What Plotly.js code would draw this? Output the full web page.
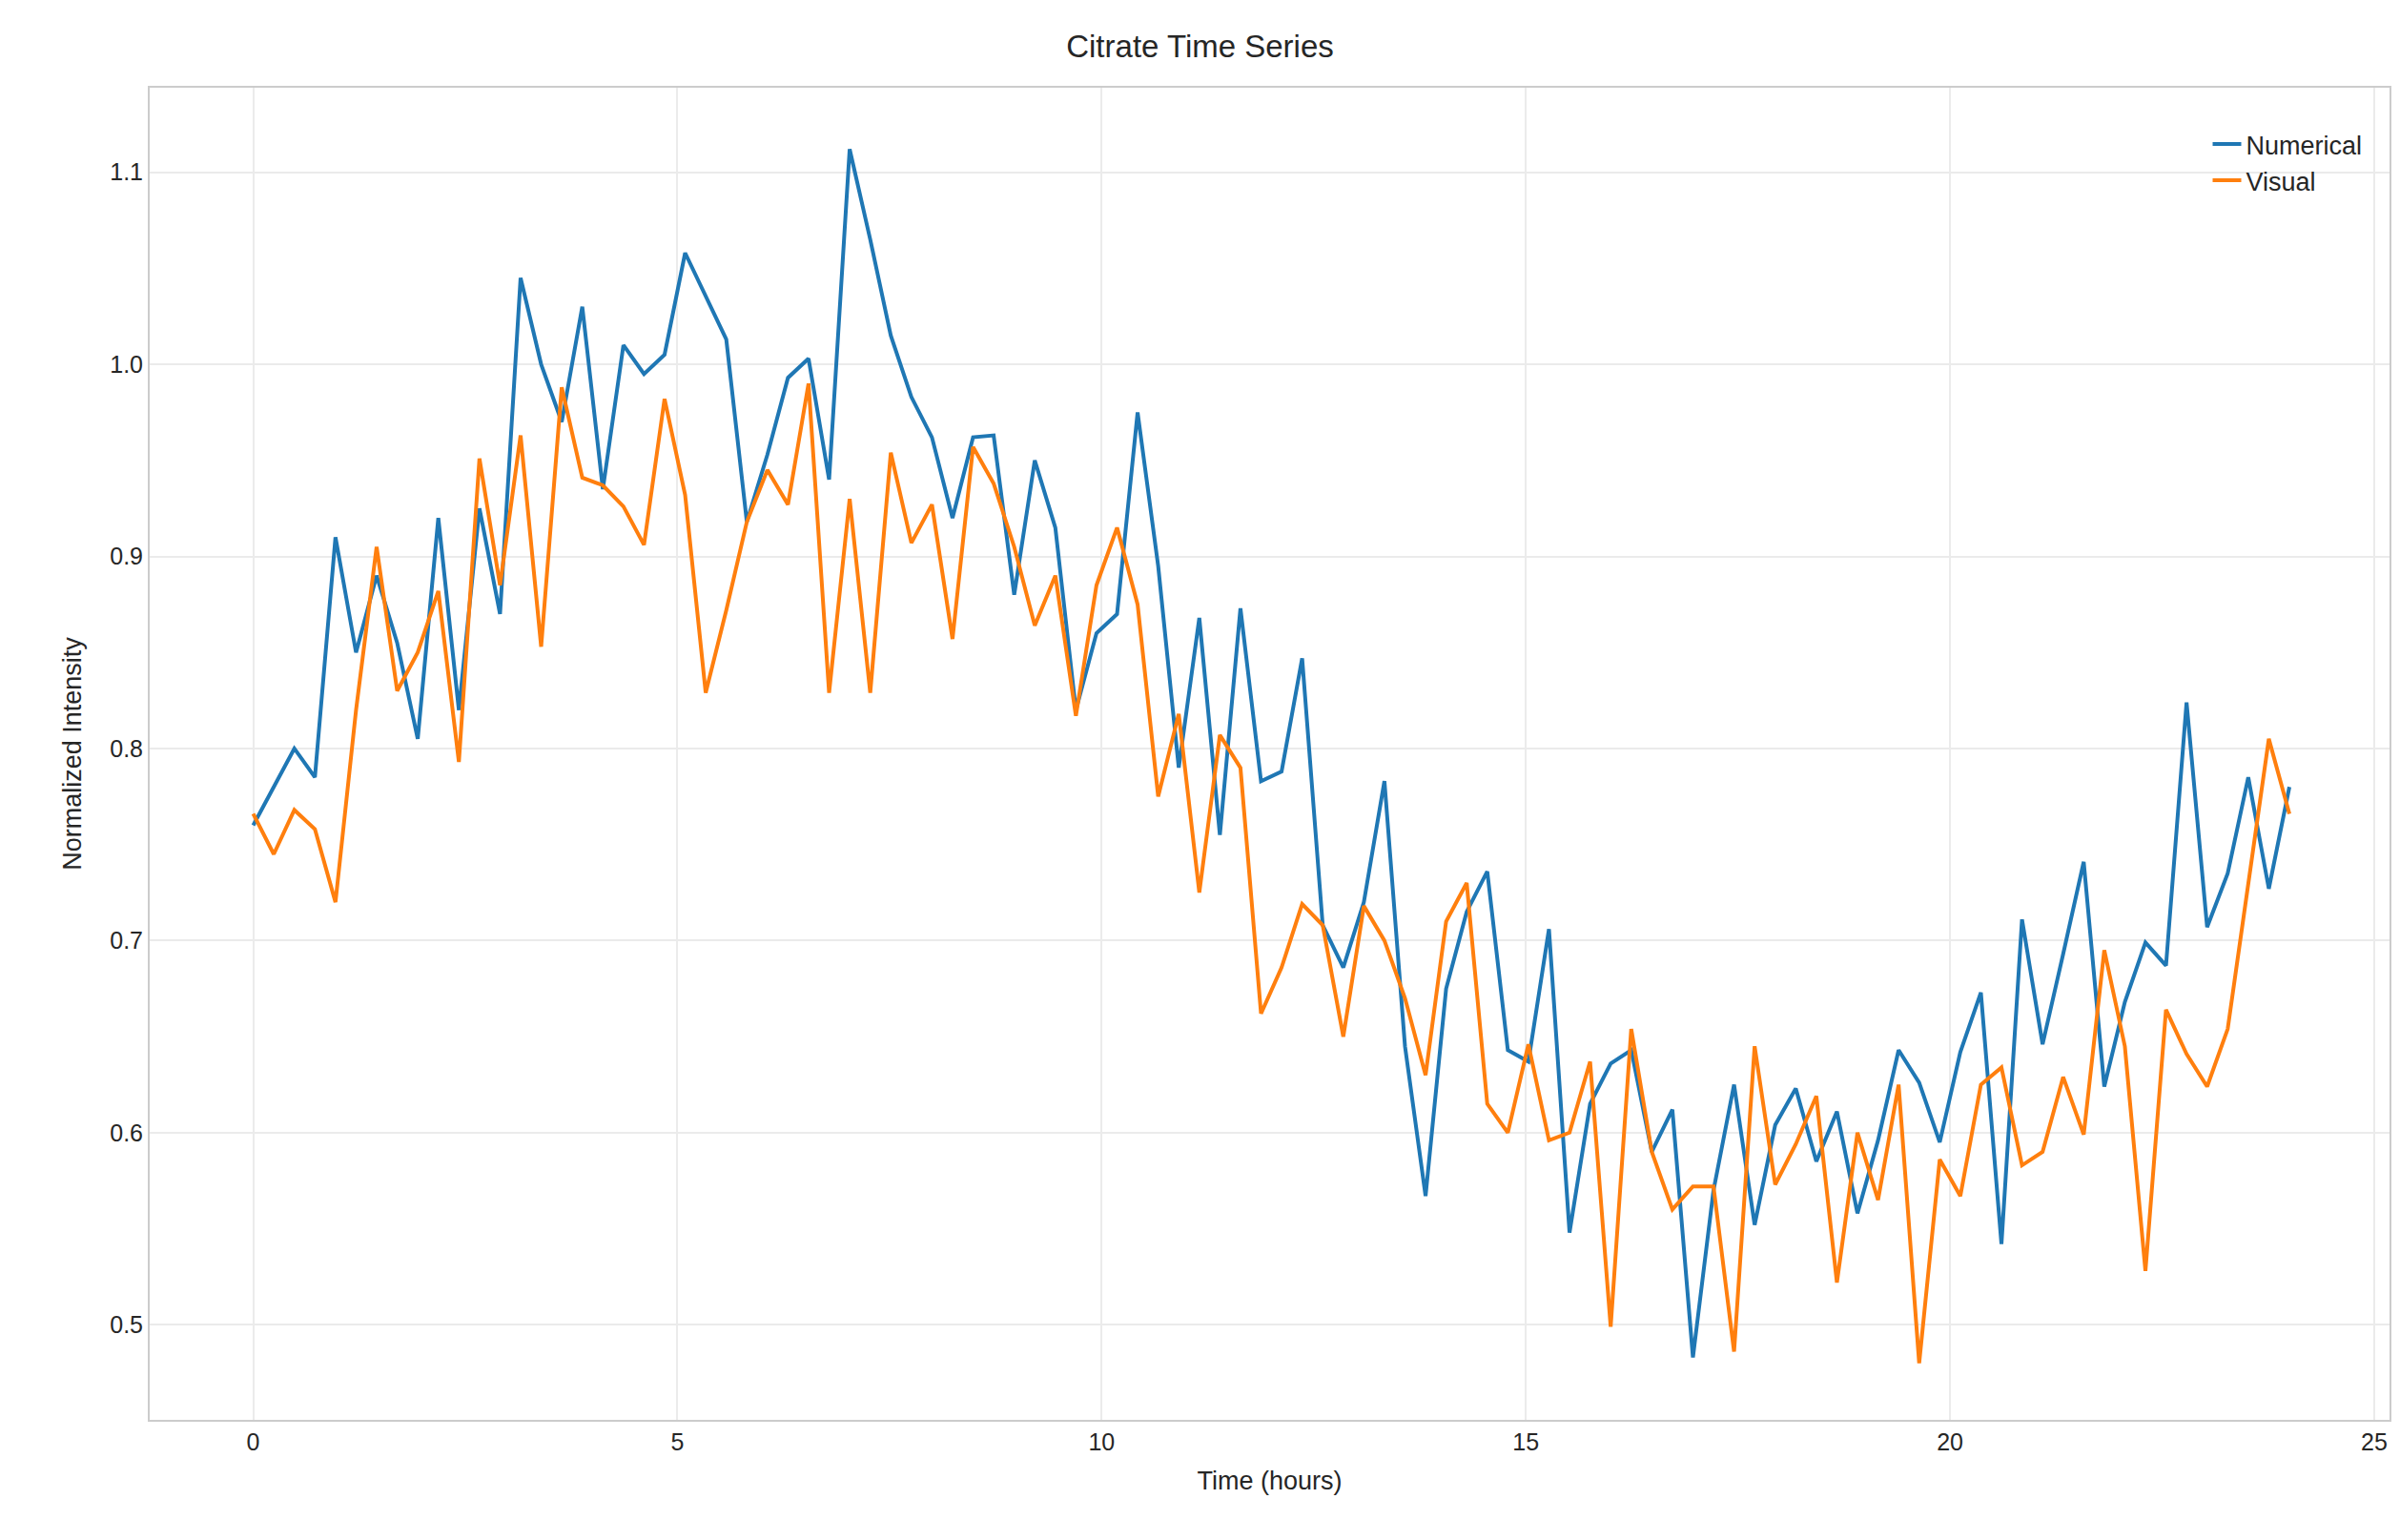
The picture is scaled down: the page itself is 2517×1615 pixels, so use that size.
<!DOCTYPE html>
<html>
<head>
<meta charset="utf-8">
<script src="https://cdn.plot.ly/plotly-3.0.1.min.js"></script>
<style>html,body{margin:0;padding:0;background:#fff}#plot{width:2517px;height:1615px}</style>
</head>
<body>
<div id="plot"></div>
<script>
// 100 samples over 24 hours
var nPoints = 100;
var hours = [];
for (var i = 0; i < nPoints; i++) hours.push(i * 24 / (nPoints - 1));

var numerical = [0.76, 0.78, 0.80, 0.785, 0.91, 0.85, 0.89, 0.855, 0.805, 0.92,
    0.82, 0.925, 0.87, 1.045, 1.0, 0.97, 1.03, 0.935, 1.01, 0.995,
    1.005, 1.058, 1.035, 1.013, 0.918, 0.953, 0.993, 1.003, 0.94, 1.112,
    1.065, 1.015, 0.983, 0.962, 0.92, 0.962, 0.963, 0.88, 0.95, 0.915,
    0.82, 0.86, 0.87, 0.975, 0.895, 0.79, 0.868, 0.755, 0.873, 0.783,
    0.788, 0.847, 0.708, 0.686, 0.72, 0.783, 0.645, 0.567, 0.675, 0.715,
    0.736, 0.643, 0.637, 0.706, 0.548, 0.615, 0.636, 0.643, 0.59, 0.612,
    0.483, 0.57, 0.625, 0.552, 0.604, 0.623, 0.585, 0.611, 0.558, 0.596,
    0.643, 0.626, 0.595, 0.642, 0.673, 0.542, 0.711, 0.646, 0.693, 0.741,
    0.624, 0.668, 0.699, 0.687, 0.824, 0.707, 0.735, 0.785, 0.727, 0.78];

var visual = [0.766, 0.745, 0.768, 0.758, 0.72, 0.82, 0.905, 0.83, 0.85, 0.882,
    0.793, 0.951, 0.885, 0.963, 0.853, 0.988, 0.941, 0.937, 0.926, 0.906,
    0.982, 0.932, 0.829, 0.872, 0.918, 0.945, 0.927, 0.99, 0.829, 0.93,
    0.829, 0.954, 0.907, 0.927, 0.857, 0.957, 0.938, 0.905, 0.864, 0.89,
    0.817, 0.885, 0.915, 0.875, 0.775, 0.818, 0.725, 0.807, 0.79, 0.662,
    0.686, 0.719, 0.708, 0.65, 0.718, 0.7, 0.67, 0.63, 0.71, 0.73,
    0.615, 0.6, 0.646, 0.596, 0.6, 0.637, 0.499, 0.654, 0.59, 0.56,
    0.572, 0.572, 0.486, 0.645, 0.573, 0.594, 0.619, 0.522, 0.6, 0.565,
    0.625, 0.48, 0.586, 0.567, 0.625, 0.634, 0.583, 0.59, 0.629, 0.599,
    0.695, 0.645, 0.528, 0.664, 0.641, 0.624, 0.654, 0.73, 0.805, 0.766];

var traceNum = {
    x: hours, y: numerical, type: 'scatter', mode: 'lines', name: 'Numerical',
    line: { color: '#1f77b4', width: 4 }
};
var traceVis = {
    x: hours, y: visual, type: 'scatter', mode: 'lines', name: 'Visual',
    line: { color: '#ff7f0e', width: 4 }
};

var axisFont = { family: 'Arial, Liberation Sans, sans-serif', size: 25, color: '#262626' };

var layout = {
    width: 2517, height: 1615,
    margin: { l: 157, r: 11, t: 92, b: 126 },
    paper_bgcolor: '#fff', plot_bgcolor: '#fff',
    font: axisFont,
    title: { text: 'Citrate Time Series', font: { size: 33, color: '#262626' }, x: 0.5, y: 0.97, yanchor: 'middle' },
    xaxis: {
        title: { text: 'Time (hours)', font: { size: 27 }, standoff: 18 },
        range: [-1.22, 25.18], tickvals: [0, 5, 10, 15, 20, 25],
        showgrid: true, gridcolor: '#ebebeb', gridwidth: 1.6, zeroline: false,
        showline: true, mirror: true, linecolor: '#cccccc', linewidth: 2,
        ticks: '', ticklen: 0
    },
    yaxis: {
        title: { text: 'Normalized Intensity', font: { size: 27 }, standoff: 22 },
        range: [0.4505, 1.144], tickvals: [0.5, 0.6, 0.7, 0.8, 0.9, 1.0, 1.1],
        ticktext: ['0.5', '0.6', '0.7', '0.8', '0.9', '1.0', '1.1'],
        showgrid: true, gridcolor: '#ebebeb', gridwidth: 1.6, zeroline: false,
        showline: true, mirror: true, linecolor: '#cccccc', linewidth: 2,
        ticks: '', ticklen: 0
    },
    showlegend: true,
    legend: {
        x: 0.99, y: 0.975, xanchor: 'right', yanchor: 'top',
        bgcolor: 'rgba(255,255,255,0)', font: { size: 27, color: '#262626' }
    }
};

Plotly.newPlot('plot', [traceNum, traceVis], layout, { displayModeBar: false });
</script>
</body>
</html>
